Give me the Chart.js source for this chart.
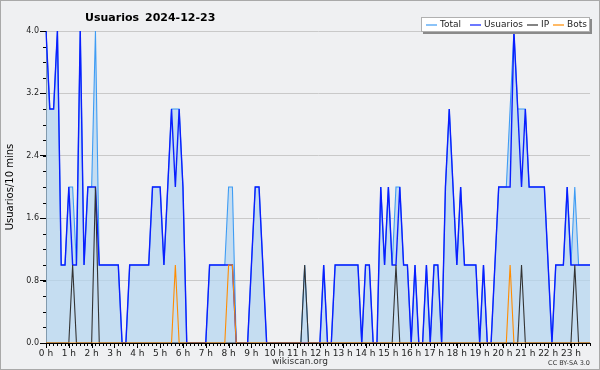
<!DOCTYPE html>
<html>
<head>
<meta charset="utf-8">
<title>Usuarios 2024-12-23</title>
<script src="https://cdn.jsdelivr.net/npm/chart.js@4.4.0/dist/chart.umd.min.js"></script>
<style>
    html, body { margin: 0; padding: 0; background: #eff0f2; }
    #wrap { width: 600px; height: 370px; }
</style>
</head>
<body>
<div id="wrap"><canvas id="usersChart" width="600" height="370"></canvas></div>
<script>
/* DATA – one value per 10 minutes, 00:00 -> 23:50 */
const slotLabels = Array.from({ length: 144 }, (_, i) =>
    Math.floor(i / 6) + ":" + String((i % 6) * 10).padStart(2, "0"));
const hourLabels = Array.from({ length: 24 }, (_, h) => h + " h");
const yTicks = [0, 0.8, 1.6, 2.4, 3.2, 4.0];

const total = [
    4, 3, 3, 4, 1, 1, 2, 2, 1, 4, 1, 2,
    2, 4, 1, 1, 1, 1, 1, 1, 0, 0, 1, 1,
    1, 1, 1, 1, 2, 2, 2, 1, 2, 3, 3, 3,
    2, 0, 0, 0, 0, 0, 0, 1, 1, 1, 1, 1,
    2, 2, 0, 0, 0, 0, 1, 2, 2, 1, 0, 0,
    0, 0, 0, 0, 0, 0, 0, 0, 1, 0, 0, 0,
    0, 1, 0, 0, 1, 1, 1, 1, 1, 1, 1, 0,
    1, 1, 0, 0, 2, 1, 2, 1, 2, 2, 1, 1,
    0, 1, 0, 0, 1, 0, 1, 1, 0, 2, 3, 2,
    1, 2, 1, 1, 1, 1, 0, 1, 0, 0, 1, 2,
    2, 2, 3, 4, 3, 3, 3, 2, 2, 2, 2, 2,
    1, 0, 1, 1, 1, 2, 1, 2, 1, 1, 1, 1
];
const usuarios = [
    4, 3, 3, 4, 1, 1, 2, 1, 1, 4, 1, 2,
    2, 2, 1, 1, 1, 1, 1, 1, 0, 0, 1, 1,
    1, 1, 1, 1, 2, 2, 2, 1, 2, 3, 2, 3,
    2, 0, 0, 0, 0, 0, 0, 1, 1, 1, 1, 1,
    1, 1, 0, 0, 0, 0, 1, 2, 2, 1, 0, 0,
    0, 0, 0, 0, 0, 0, 0, 0, 0, 0, 0, 0,
    0, 1, 0, 0, 1, 1, 1, 1, 1, 1, 1, 0,
    1, 1, 0, 0, 2, 1, 2, 1, 1, 2, 1, 1,
    0, 1, 0, 0, 1, 0, 1, 1, 0, 2, 3, 2,
    1, 2, 1, 1, 1, 1, 0, 1, 0, 0, 1, 2,
    2, 2, 2, 4, 3, 2, 3, 2, 2, 2, 2, 2,
    1, 0, 1, 1, 1, 2, 1, 1, 1, 1, 1, 1
];
const ip = [
    0, 0, 0, 0, 0, 0, 0, 1, 0, 0, 0, 0,
    0, 2, 0, 0, 0, 0, 0, 0, 0, 0, 0, 0,
    0, 0, 0, 0, 0, 0, 0, 0, 0, 0, 0, 0,
    0, 0, 0, 0, 0, 0, 0, 0, 0, 0, 0, 0,
    0, 0, 0, 0, 0, 0, 0, 0, 0, 0, 0, 0,
    0, 0, 0, 0, 0, 0, 0, 0, 1, 0, 0, 0,
    0, 0, 0, 0, 0, 0, 0, 0, 0, 0, 0, 0,
    0, 0, 0, 0, 0, 0, 0, 0, 1, 0, 0, 0,
    0, 0, 0, 0, 0, 0, 0, 0, 0, 0, 0, 0,
    0, 0, 0, 0, 0, 0, 0, 0, 0, 0, 0, 0,
    0, 0, 0, 0, 0, 1, 0, 0, 0, 0, 0, 0,
    0, 0, 0, 0, 0, 0, 0, 1, 0, 0, 0, 0
];
const bots = [
    0, 0, 0, 0, 0, 0, 0, 0, 0, 0, 0, 0,
    0, 0, 0, 0, 0, 0, 0, 0, 0, 0, 0, 0,
    0, 0, 0, 0, 0, 0, 0, 0, 0, 0, 1, 0,
    0, 0, 0, 0, 0, 0, 0, 0, 0, 0, 0, 0,
    1, 1, 0, 0, 0, 0, 0, 0, 0, 0, 0, 0,
    0, 0, 0, 0, 0, 0, 0, 0, 0, 0, 0, 0,
    0, 0, 0, 0, 0, 0, 0, 0, 0, 0, 0, 0,
    0, 0, 0, 0, 0, 0, 0, 0, 0, 0, 0, 0,
    0, 0, 0, 0, 0, 0, 0, 0, 0, 0, 0, 0,
    0, 0, 0, 0, 0, 0, 0, 0, 0, 0, 0, 0,
    0, 0, 1, 0, 0, 0, 0, 0, 0, 0, 0, 0,
    0, 0, 0, 0, 0, 0, 0, 0, 0, 0, 0, 0
];

const seriesNames = ["Total", "Usuarios", "IP", "Bots"];
const seriesColors = ["#3e9cf4", "#0a1eff", "#333333", "#ff8c00"];

document.addEventListener("DOMContentLoaded", () => {
    initUsersChart();
});

/* background, frame, minor ticks, title, legend, footer */
const decorPlugin = {
    id: "decor",
    beforeDraw(chart) {
        const { ctx, width, height } = chart;
        ctx.save();
        ctx.fillStyle = "#eff0f2";
        ctx.fillRect(0, 0, width, height);
        ctx.strokeStyle = "#a9a9a9";
        ctx.lineWidth = 1;
        ctx.strokeRect(0.5, 0.5, width - 1, height - 1);
        ctx.restore();
    },
    afterDraw(chart) {
        const { ctx, chartArea } = chart;
        const xScale = chart.scales.x;
        const yScale = chart.scales.y;
        ctx.save();

        // minor y ticks (every 0.2)
        ctx.strokeStyle = "#000";
        ctx.lineWidth = 1;
        ctx.beginPath();
        for (let k = 0; k <= 20; k++) {
            const y = Math.round(yScale.getPixelForValue(k * 0.2)) + 0.5;
            ctx.moveTo(chartArea.left - 3, y);
            ctx.lineTo(chartArea.left, y);
        }
        // longer hour ticks on x
        for (let h = 0; h < 24; h++) {
            const x = Math.round(xScale.getPixelForTick(h * 6)) + 0.5;
            ctx.moveTo(x, chartArea.bottom);
            ctx.lineTo(x, chartArea.bottom + 5);
        }
        ctx.stroke();

        // title
        ctx.fillStyle = "#000";
        ctx.font = "bold 11px 'DejaVu Sans'";
        ctx.textBaseline = "alphabetic";
        ctx.textAlign = "left";
        ctx.fillText("Usuarios", 85, 21);
        ctx.fillText("2024-12-23", 145, 21);

        // y axis title
        ctx.save();
        ctx.translate(10, (chartArea.top + chartArea.bottom) / 2);
        ctx.rotate(-Math.PI / 2);
        ctx.font = "10px 'DejaVu Sans'";
        ctx.textAlign = "center";
        ctx.textBaseline = "middle";
        ctx.fillText("Usuarios/10 mins", 0, 0);
        ctx.restore();

        // legend box
        const bx = 421, by = 17, bw = 169, bh = 15;
        ctx.fillStyle = "#8a8a8a";
        ctx.fillRect(bx + 2, by + 2, bw, bh);
        ctx.fillStyle = "#fff";
        ctx.fillRect(bx, by, bw, bh);
        ctx.strokeStyle = "#b0b0b0";
        ctx.strokeRect(bx + 0.5, by + 0.5, bw - 1, bh - 1);
        ctx.font = "9px 'DejaVu Sans'";
        ctx.textBaseline = "middle";
        ctx.textAlign = "left";
        const itemX = [426, 470, 527, 553];
        const ly = by + bh / 2 + 0.5;
        seriesNames.forEach((name, i) => {
            const lx = itemX[i];
            ctx.strokeStyle = seriesColors[i];
            ctx.lineWidth = 1.2;
            ctx.beginPath();
            ctx.moveTo(lx, ly);
            ctx.lineTo(lx + 11, ly);
            ctx.stroke();
            ctx.fillStyle = "#222";
            ctx.fillText(name, lx + 14, ly);
        });

        // footer
        ctx.fillStyle = "#333";
        ctx.font = "9px 'DejaVu Sans'";
        ctx.textAlign = "center";
        ctx.textBaseline = "alphabetic";
        ctx.fillText("wikiscan.org", 300, 364);
        ctx.font = "6.5px 'DejaVu Sans'";
        ctx.textAlign = "right";
        ctx.fillText("CC BY-SA 3.0", 590, 365);

        ctx.restore();
    }
};

function initUsersChart() {
    const canvas = document.getElementById("usersChart");
    if (!canvas || typeof Chart === "undefined") return;

    Chart.defaults.font.family = "'DejaVu Sans', sans-serif";
    Chart.defaults.color = "#222";

    const seriesData = [total, usuarios, ip, bots];

    new Chart(canvas.getContext("2d"), {
        type: "line",
        data: {
            labels: slotLabels,
            datasets: seriesNames.map((name, i) => ({
                label: name,
                data: seriesData[i],
                borderColor: seriesColors[i],
                borderWidth: i === 1 ? 1.4 : 1.1,
                backgroundColor: i === 0 ? "rgba(180, 213, 240, 0.72)" : "transparent",
                fill: i === 0 ? "origin" : false,
                pointRadius: 0,
                tension: 0,
                order: 4 - i
            }))
        },
        options: {
            responsive: false,
            animation: false,
            events: [],
            layout: { padding: { top: 31, right: 10, left: 0, bottom: 0 } },
            plugins: {
                legend: { display: false },
                tooltip: { enabled: false }
            },
            scales: {
                x: {
                    type: "category",
                    afterFit: scale => { scale.height = 27; },
                    grid: {
                        drawOnChartArea: false,
                        tickLength: 3,
                        tickColor: "#000",
                        offset: false
                    },
                    border: { color: "#000", width: 1 },
                    ticks: {
                        autoSkip: false,
                        maxRotation: 0,
                        minRotation: 0,
                        padding: 2,
                        font: { size: 9 },
                        color: "#222",
                        callback: (value, index) => index % 6 === 0 ? hourLabels[index / 6] : ""
                    }
                },
                y: {
                    min: 0,
                    max: 4,
                    afterFit: scale => { scale.width = 46; },
                    afterBuildTicks: axis => {
                        axis.ticks = yTicks.map(v => ({ value: v }));
                    },
                    grid: {
                        color: "#c9c9c9",
                        tickColor: "#000",
                        tickLength: 6
                    },
                    border: { color: "#000", width: 1 },
                    ticks: {
                        padding: 1,
                        font: { size: 8 },
                        color: "#222",
                        callback: v => Number(v).toFixed(1)
                    }
                }
            }
        },
        plugins: [decorPlugin]
    });
}
</script>
</body>
</html>
